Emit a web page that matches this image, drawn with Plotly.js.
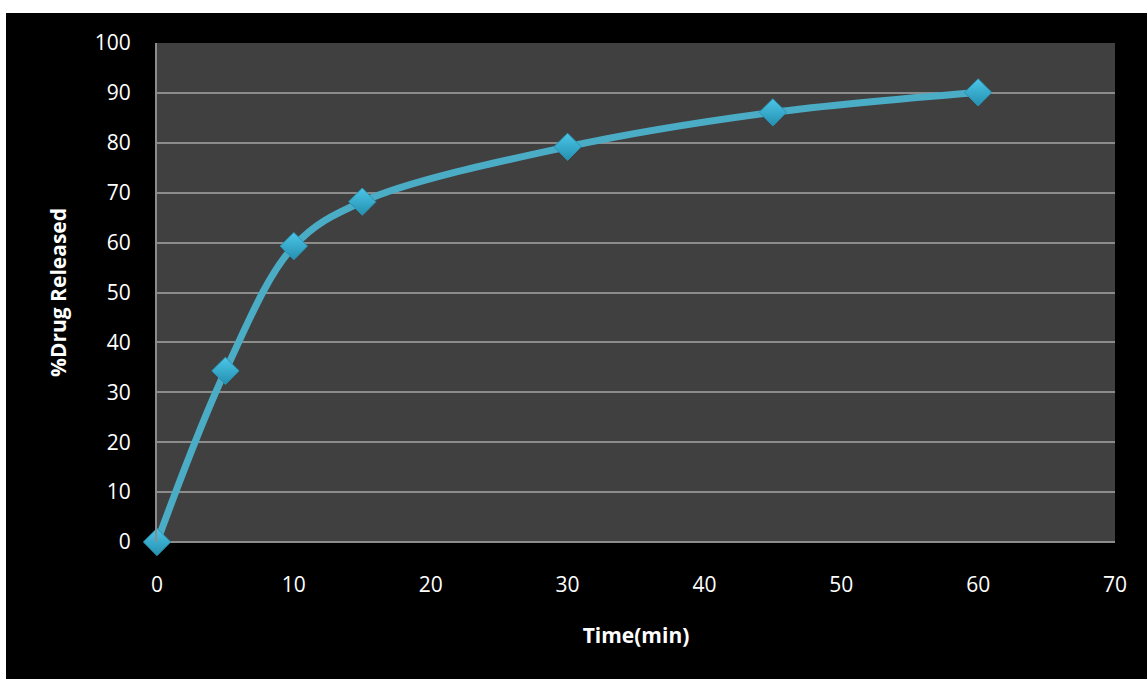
<!DOCTYPE html>
<html>
<head>
<meta charset="utf-8">
<script src="https://cdn.plot.ly/plotly-3.0.1.min.js"></script>
<style>
html,body{margin:0;padding:0;background:#ffffff;width:1147px;height:679px;overflow:hidden;}
#chart{position:absolute;left:6px;top:13px;width:1141px;height:666px;background:#000;}
</style>
</head>
<body>
<div id="chart"></div>
<script>
const timeMin = [0, 5, 10, 15, 30, 45, 60];
const drugReleased = [0, 34.3, 59.3, 68.2, 79.2, 86.1, 90.1];
const xTicks = [0, 10, 20, 30, 40, 50, 60, 70];
const yTicks = [0, 10, 20, 30, 40, 50, 60, 70, 80, 90, 100];

const fontFam = '"Open Sans", "Noto Sans", sans-serif';

const traces = [
  {
    x: timeMin, y: drugReleased, type: 'scatter', mode: 'lines',
    line: {color: '#4bacc6', width: 7, shape: 'spline', smoothing: 1},
    cliponaxis: false, hoverinfo: 'skip', showlegend: false
  },
  {
    x: timeMin, y: drugReleased, type: 'scatter', mode: 'markers',
    marker: {symbol: 'diamond', size: 21, color: '#4cc6e8',
      gradient: {type: 'vertical', color: '#2590b0'},
      line: {color: '#2a93b3', width: 1}},
    cliponaxis: false, showlegend: false
  }
];

const layout = {
  width: 1141, height: 666,
  paper_bgcolor: '#000000', plot_bgcolor: '#404040',
  margin: {l: 151, r: 32, t: 30, b: 137},
  font: {family: fontFam, color: '#ffffff', size: 22},
  xaxis: {
    range: [0, 70], tickvals: xTicks, ticktext: xTicks.map(String),
    showgrid: false, zeroline: false, showline: false,
    ticks: '', ticklabelstandoff: 28,
    tickfont: {family: fontFam, size: 21, color: '#ffffff'},
    title: {text: '<b>Time(min)</b>', font: {family: fontFam, size: 21, color: '#ffffff'}, standoff: 31}
  },
  yaxis: {
    range: [0, 100], tickvals: yTicks, ticktext: yTicks.map(String),
    showgrid: true, gridcolor: '#8c8c8c', gridwidth: 2,
    zeroline: false, showline: true, linecolor: '#8c8c8c', linewidth: 2,
    ticks: '', ticklabelstandoff: 20,
    tickfont: {family: fontFam, size: 21, color: '#ffffff'},
    title: {text: '<b>%Drug Released</b>', font: {family: fontFam, size: 21, color: '#ffffff'}, standoff: 22}
  },
  shapes: [
    {type: 'line', xref: 'paper', yref: 'paper', x0: 0, x1: 1, y0: 0, y1: 0, line: {color: '#8c8c8c', width: 2}, layer: 'below'}
  ]
};

Plotly.newPlot('chart', traces, layout, {displayModeBar: false, staticPlot: true});
</script>
</body>
</html>
